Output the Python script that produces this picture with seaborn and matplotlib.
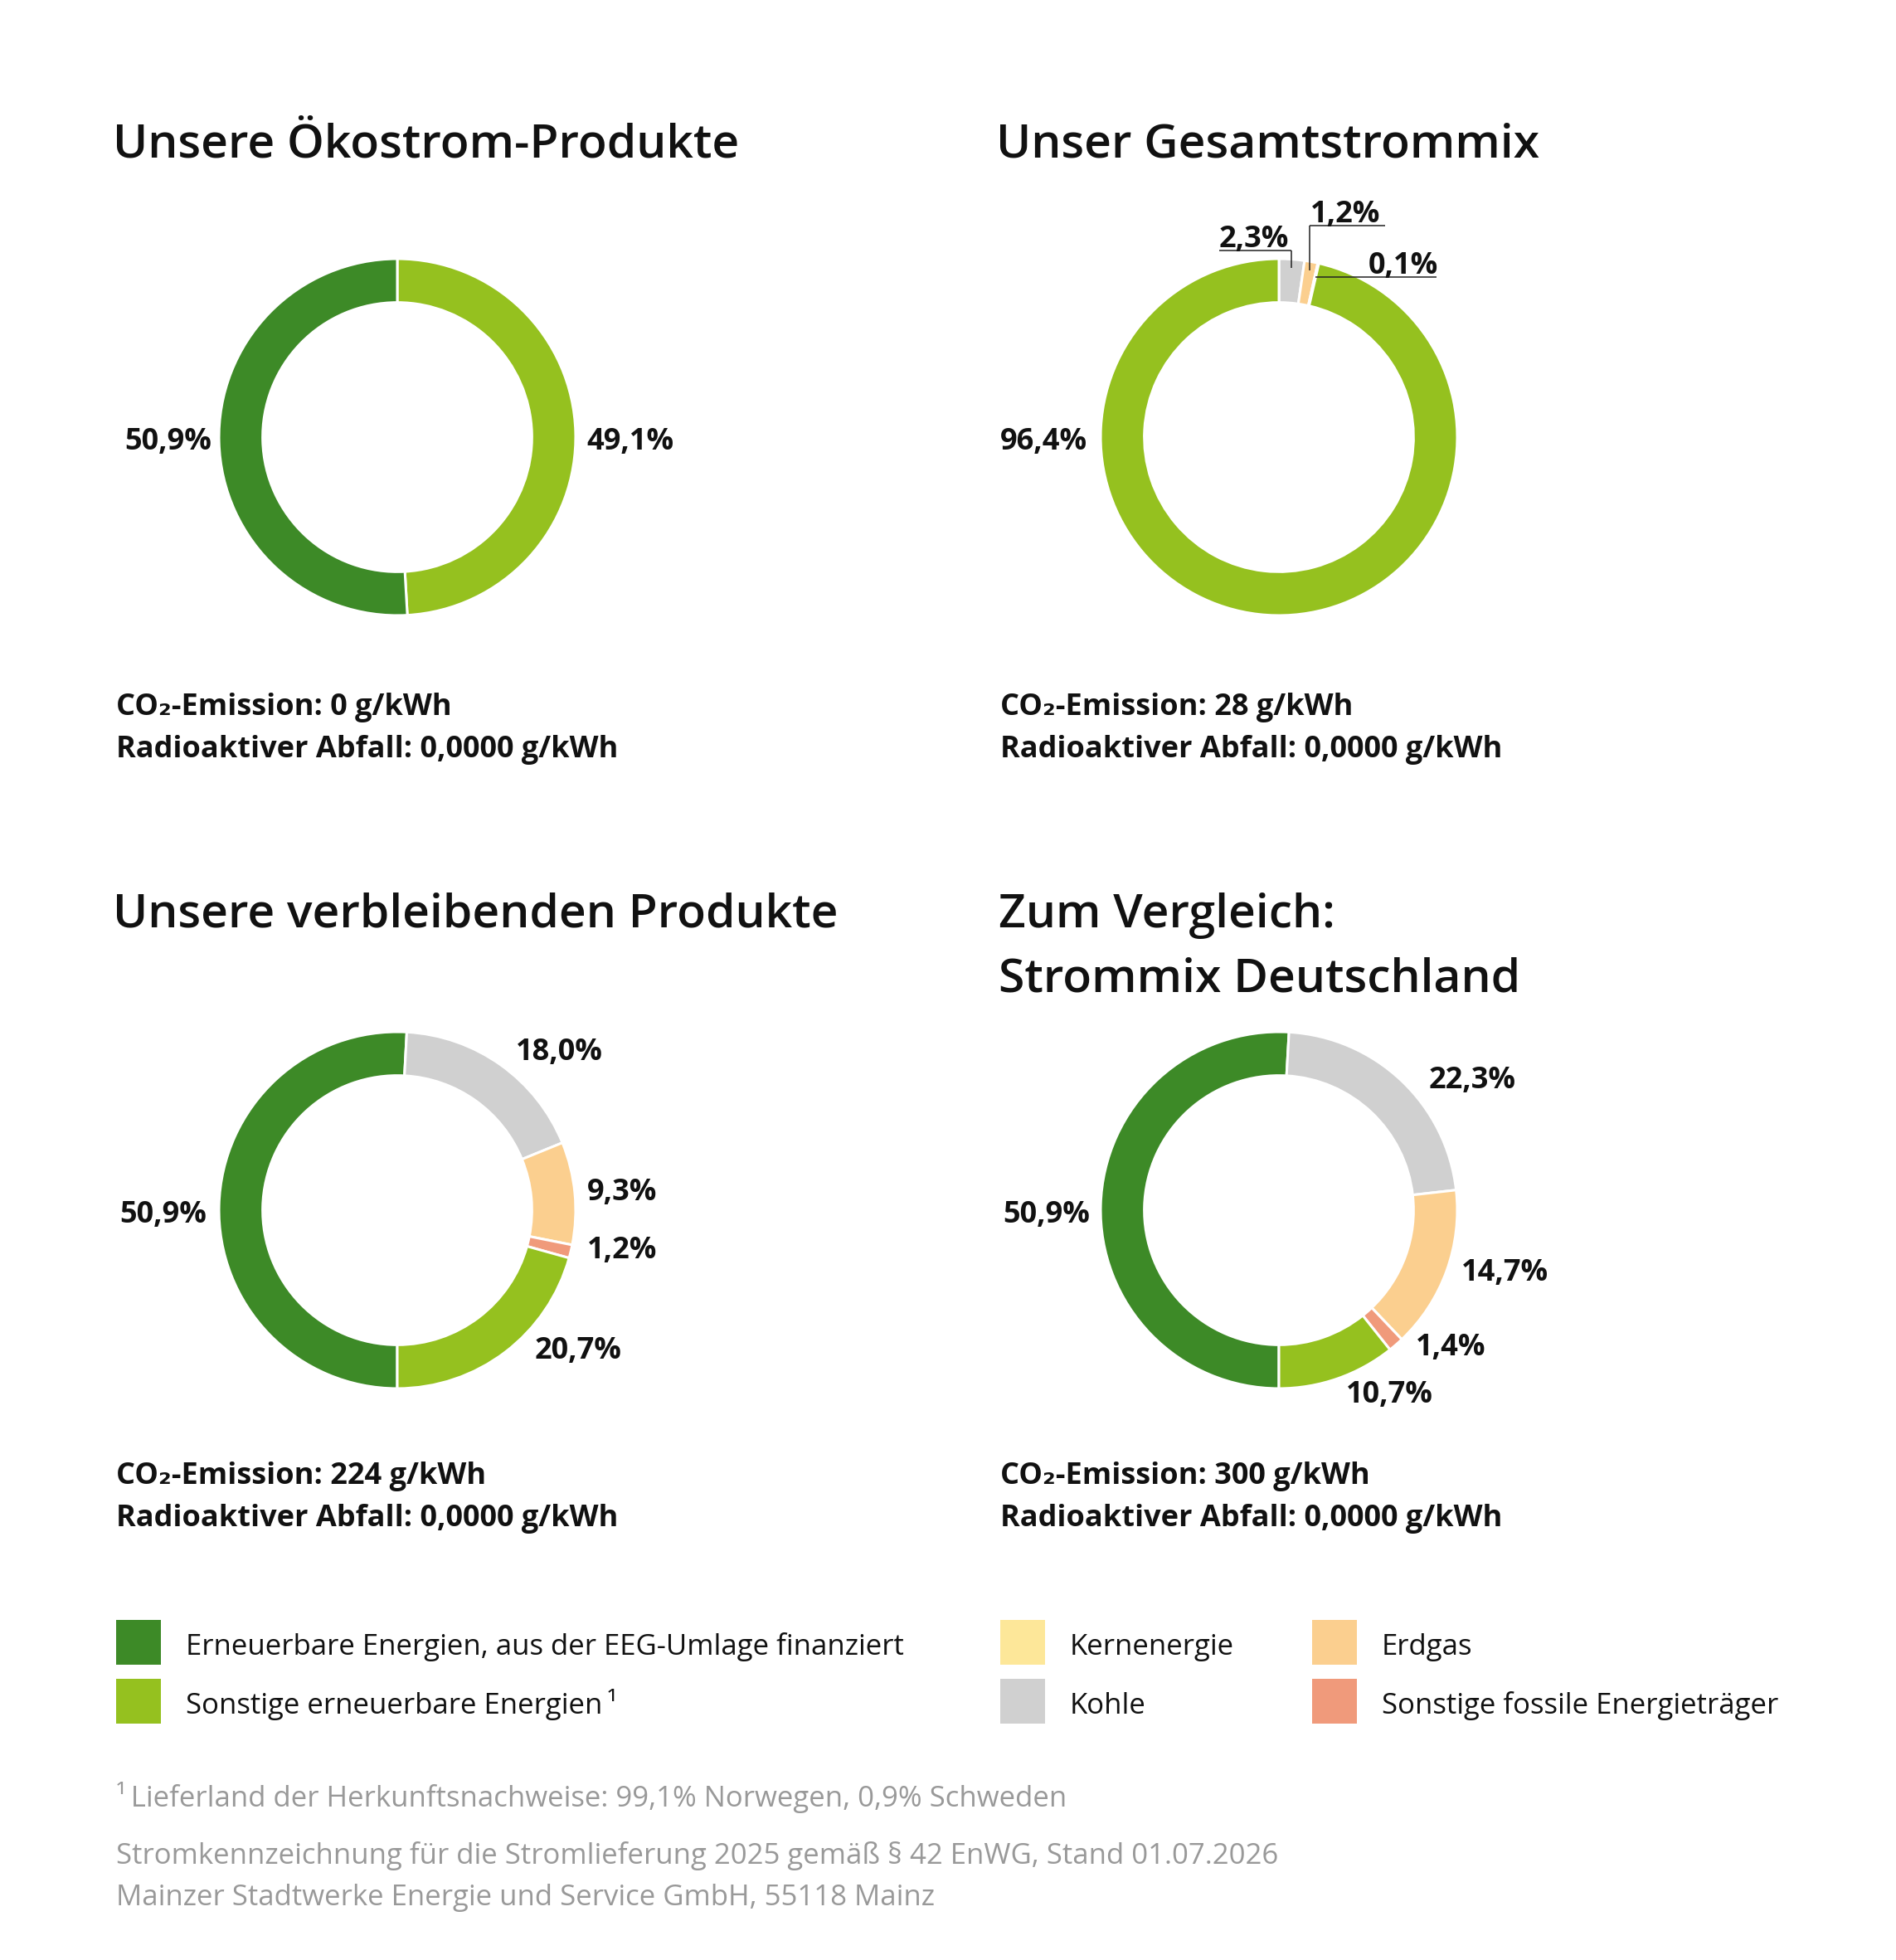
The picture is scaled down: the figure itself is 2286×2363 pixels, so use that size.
import numpy as np
import pandas as pd
import matplotlib
matplotlib.use("Agg")
import matplotlib.pyplot as plt
from matplotlib.patches import Rectangle
import seaborn as sns

# ---------------- data ----------------
cat_eeg = "Erneuerbare Energien, aus der EEG-Umlage finanziert"
cat_see = "Sonstige erneuerbare Energien"
cat_kern = "Kernenergie"
cat_kohle = "Kohle"
cat_erdgas = "Erdgas"
cat_fossil = "Sonstige fossile Energieträger"

oeko_cats = [cat_see, cat_eeg]
oeko_vals = [49.1, 50.9]

gesamt_cats = [cat_kohle, cat_erdgas, cat_fossil, cat_see]
gesamt_vals = [2.3, 1.2, 0.1, 96.4]

verbl_cats = [cat_eeg, cat_kohle, cat_erdgas, cat_fossil, cat_see]
verbl_vals = [50.9, 18.0, 9.3, 1.2, 20.7]

de_cats = [cat_eeg, cat_kohle, cat_erdgas, cat_fossil, cat_see]
de_vals = [50.9, 22.3, 14.7, 1.4, 10.7]

titles = ["Unsere Ökostrom-Produkte", "Unser Gesamtstrommix",
          "Unsere verbleibenden Produkte", "Zum Vergleich:\nStrommix Deutschland"]
co2_values = ["0", "28", "224", "300"]
waste_values = ["0,0000", "0,0000", "0,0000", "0,0000"]

legend_left = [cat_eeg, cat_see]
legend_mid = [cat_kern, cat_kohle]
legend_right = [cat_erdgas, cat_fossil]

footnote = "\u00b9\u2009Lieferland der Herkunftsnachweise: 99,1% Norwegen, 0,9% Schweden"
source1 = "Stromkennzeichnung für die Stromlieferung 2025 gemäß § 42 EnWG, Stand 01.07.2026"
source2 = "Mainzer Stadtwerke Energie und Service GmbH, 55118 Mainz"

# ---------------- style ----------------
colors = {
    cat_eeg: "#3d8a27",
    cat_see: "#95c11f",
    cat_kern: "#fde799",
    cat_kohle: "#d0d0d0",
    cat_erdgas: "#fbcf8f",
    cat_fossil: "#f09a7b",
}

sns.set_theme(style="white")
FONT = ['Open Sans', 'DejaVu Sans']
plt.rcParams['font.family'] = FONT

W, H = 2286, 2363
fig = plt.figure(figsize=(W / 100, H / 100), dpi=100)
fig.patch.set_facecolor("white")


def fx(x):
    return x / W


def fy(y):
    return 1 - y / H


R_PX = 215.0  # outer radius in pixels
HALF = 330.0
LBL = 26
TXT = "#111111"


def donut(cx, cy, vals, cats, start, fmt_labels):
    ax = fig.add_axes([fx(cx - HALF), fy(cy + HALF), 2 * HALF / W, 2 * HALF / H])
    ax.pie(vals, colors=[colors[c] for c in cats], startangle=start, counterclock=False,
           radius=1.0, wedgeprops=dict(width=0.245, edgecolor="white", linewidth=2.2))
    lim = HALF / R_PX
    ax.set_xlim(-lim, lim)
    ax.set_ylim(-lim, lim)
    ax.set_aspect("equal")
    ax.axis("off")
    for (txt, dx, dy, ha) in fmt_labels:
        ax.text(dx / R_PX, -dy / R_PX, txt, ha=ha, va="center", fontsize=LBL,
                fontweight="bold", color=TXT, family=FONT)
    return ax


def pct(v):
    return f"{v:.1f}%".replace(".", ",")


CTOP, CBOT = 527, 1459
CL, CR = 479, 1542

# Top left
donut(CL, CTOP, oeko_vals, oeko_cats, 90,
      [(pct(oeko_vals[1]), -224, 6, "right"), (pct(oeko_vals[0]), 228, 6, "left")])

# Top right (with leader lines)
ax_tr = donut(CR, CTOP, gesamt_vals, gesamt_cats, 90,
              [(pct(gesamt_vals[3]), -231, 6, "right")])
tot = sum(gesamt_vals)
cum = np.cumsum([0] + gesamt_vals)
mids = [(cum[i] + cum[i + 1]) / 2 / tot * 360 for i in range(len(gesamt_vals))]


def anchor(i, r):
    th = np.deg2rad(90 - mids[i])
    return r * np.cos(th), r * np.sin(th)


lc = "#222222"
lw = 1.1
# 2,3%
axk, ayk = anchor(0, 0.95)
uy = 225 / R_PX
ax_tr.plot([-72 / R_PX, axk], [uy, uy], color=lc, lw=lw, solid_capstyle="butt")
ax_tr.plot([axk, axk], [uy, ayk], color=lc, lw=lw, solid_capstyle="butt")
ax_tr.text(-72 / R_PX, 229 / R_PX, pct(gesamt_vals[0]), ha="left", va="baseline",
           fontsize=LBL, fontweight="bold", color=TXT, family=FONT)
# 1,2%
axe, aye = anchor(1, 0.95)
uy = 255 / R_PX
ax_tr.plot([axe, 128 / R_PX], [uy, uy], color=lc, lw=lw, solid_capstyle="butt")
ax_tr.plot([axe, axe], [uy, aye], color=lc, lw=lw, solid_capstyle="butt")
ax_tr.text(axe + 1 / R_PX, 259 / R_PX, pct(gesamt_vals[1]), ha="left", va="baseline",
           fontsize=LBL, fontweight="bold", color=TXT, family=FONT)
# 0,1%
axf, ayf = anchor(2, 0.92)
ax_tr.plot([axf, 190 / R_PX], [ayf, ayf], color=lc, lw=lw, solid_capstyle="butt")
ax_tr.text(108 / R_PX, ayf + 4 / R_PX, pct(gesamt_vals[2]), ha="left", va="baseline",
           fontsize=LBL, fontweight="bold", color=TXT, family=FONT)

# Bottom left
donut(CL, CBOT, verbl_vals, verbl_cats, -90,
      [(pct(verbl_vals[0]), -230, 6, "right"),
       (pct(verbl_vals[1]), 143, -190, "left"),
       (pct(verbl_vals[2]), 229, -21, "left"),
       (pct(verbl_vals[3]), 229, 49, "left"),
       (pct(verbl_vals[4]), 166, 170, "left")])

# Bottom right
donut(CR, CBOT, de_vals, de_cats, -90,
      [(pct(de_vals[0]), -228, 6, "right"),
       (pct(de_vals[1]), 181, -156, "left"),
       (pct(de_vals[2]), 220, 76, "left"),
       (pct(de_vals[3]), 165, 166, "left"),
       (pct(de_vals[4]), 81, 223, "left")])

# ---------------- titles ----------------
TSIZE = 41
TW = "semibold"
fig.text(fx(136), fy(190), titles[0], ha="left", va="baseline", fontsize=TSIZE,
         fontweight=TW, color=TXT)
fig.text(fx(1201), fy(190), titles[1], ha="left", va="baseline", fontsize=TSIZE,
         fontweight=TW, color=TXT)
fig.text(fx(136), fy(1118), titles[2], ha="left", va="baseline", fontsize=TSIZE,
         fontweight=TW, color=TXT)
l1, l2 = titles[3].split("\n")
fig.text(fx(1204), fy(1118), l1, ha="left", va="baseline", fontsize=TSIZE,
         fontweight=TW, color=TXT)
fig.text(fx(1204), fy(1195), l2, ha="left", va="baseline", fontsize=TSIZE,
         fontweight=TW, color=TXT)

# ---------------- CO2 / waste ----------------
ISIZE = 26
for (x, y, co2, waste) in [(140, 862, co2_values[0], waste_values[0]),
                           (1206, 862, co2_values[1], waste_values[1]),
                           (140, 1789, co2_values[2], waste_values[2]),
                           (1206, 1789, co2_values[3], waste_values[3])]:
    fig.text(fx(x), fy(y), f"CO\u2082-Emission: {co2} g/kWh", ha="left", va="baseline",
             fontsize=ISIZE, fontweight="bold", color=TXT, family=FONT)
    fig.text(fx(x), fy(y + 51), f"Radioaktiver Abfall: {waste} g/kWh", ha="left",
             va="baseline", fontsize=ISIZE, fontweight="bold", color=TXT, family=FONT)

# ---------------- legend ----------------
LSIZE = 25
SQ = 54
for col_x, items in [(140, legend_left), (1206, legend_mid), (1582, legend_right)]:
    for j, cat in enumerate(items):
        top = 1953 + j * 71
        fig.patches.append(Rectangle((fx(col_x), fy(top + SQ)), SQ / W, SQ / H,
                                     transform=fig.transFigure, facecolor=colors[cat],
                                     edgecolor="none"))
        label = cat + ("\u2009\u00b9" if cat == cat_see else "")
        fig.text(fx(col_x + 84), fy(top + 42), label, ha="left", va="baseline",
                 fontsize=LSIZE, color=TXT, family=FONT)

# ---------------- footnotes ----------------
FSIZE = 25
gray = "#999999"
fig.text(fx(140), fy(2178), footnote, ha="left", va="baseline", fontsize=FSIZE,
         color=gray, family=FONT)
fig.text(fx(140), fy(2247), source1, ha="left", va="baseline", fontsize=FSIZE,
         color=gray, family=FONT)
fig.text(fx(140), fy(2297), source2, ha="left", va="baseline", fontsize=FSIZE,
         color=gray, family=FONT)

fig.savefig("out.png", dpi=100, facecolor="white")
